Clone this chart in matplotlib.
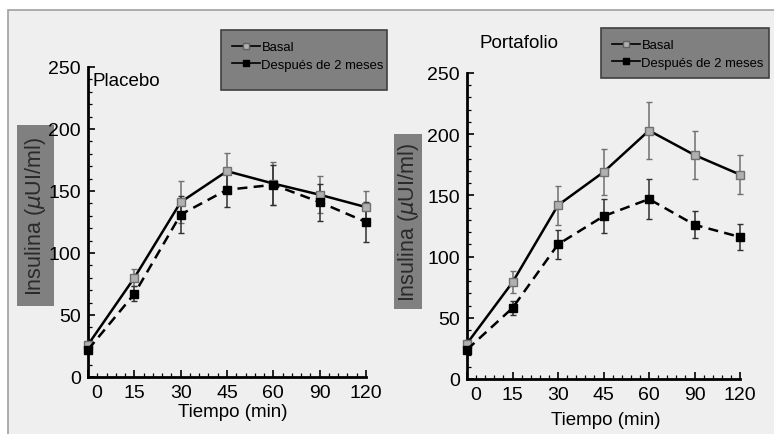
import matplotlib
matplotlib.use("Agg")
import matplotlib.pyplot as plt
import matplotlib.transforms as mtransforms
from matplotlib.patches import Rectangle
from matplotlib.lines import Line2D
import numpy as np

plt.rcParams['font.family'] = ['Liberation Sans', 'DejaVu Sans']

tiempos = ['0', '15', '30', '45', '60', '90', '120']

placebo_basal = [26, 80, 141, 166, 156, 147, 137]
placebo_basal_err = [3, 7, 17, 15, 17, 15, 13]
placebo_post = [22, 67, 131, 151, 155, 141, 125]
placebo_post_err = [3, 6, 15, 14, 16, 15, 16]

porta_basal = [29, 79, 142, 169, 203, 183, 167]
porta_basal_err = [3, 9, 16, 19, 23, 20, 16]
porta_post = [24, 58, 110, 133, 147, 126, 116]
porta_post_err = [3, 6, 12, 14, 16, 11, 11]

W, H = 774, 435
fig = plt.figure(figsize=(W / 100, H / 100), dpi=100)
fig.patch.set_facecolor('white')


def px_rect(x0, x1, y0, y1, **kw):
    fig.patches.append(Rectangle((x0 / W, 1 - y1 / H), (x1 - x0) / W, (y1 - y0) / H,
                                 transform=fig.transFigure, **kw))


# grey panel behind everything
px_rect(8, 790, 11, 440, facecolor='#efefef', edgecolor='#a0a0a0', linewidth=1.2, zorder=-10)


def px_axes(x0, x1, ytop, ybot):
    return fig.add_axes([x0 / W, (H - ybot) / H, (x1 - x0) / W, (ybot - ytop) / H])


def draw_panel(ax, basal, basal_err, post, post_err):
    x = np.arange(len(tiempos))
    ax.set_facecolor('none')
    ax.errorbar(x, basal, yerr=basal_err, color='black', linewidth=1.8,
                marker='s', markersize=6, markerfacecolor='#b0b0b0', markeredgecolor='#707070',
                ecolor='#707070', elinewidth=1.1, capsize=2, clip_on=False, zorder=3)
    ax.errorbar(x, post, yerr=post_err, color='black', linewidth=1.8, linestyle=(0, (4, 2.5)),
                marker='s', markersize=6, markerfacecolor='black', markeredgecolor='black',
                ecolor='#303030', elinewidth=1.1, capsize=2, clip_on=False, zorder=3)
    ax.set_xlim(0, 6)
    ax.set_ylim(0, 250)
    ax.set_xticks(x)
    ax.set_xticklabels(tiempos)
    ax.set_xticks(np.arange(0, 6.01, 0.2), minor=True)
    ax.set_yticks(np.arange(0, 251, 50))
    ax.set_yticks(np.arange(0, 251, 10), minor=True)
    ax.tick_params(axis='both', which='major', direction='in', length=5, width=1.2,
                   labelsize=14, colors='black', pad=5)
    ax.tick_params(axis='both', which='minor', direction='in', length=3, width=0.9)
    for s in ['top', 'right']:
        ax.spines[s].set_visible(False)
    for s in ['left', 'bottom']:
        ax.spines[s].set_linewidth(2)
    # "0" label sits a bit right of the spine
    lbl = ax.get_xticklabels()[0]
    lbl.set_transform(lbl.get_transform() + mtransforms.ScaledTranslation(0.09, 0, fig.dpi_scale_trans))


ax1 = px_axes(88, 366, 68, 378)
draw_panel(ax1, placebo_basal, placebo_basal_err, placebo_post, placebo_post_err)
ax2 = px_axes(467, 740, 74, 380)
draw_panel(ax2, porta_basal, porta_basal_err, porta_post, porta_post_err)

fig.text(92 / W, 1 - 82 / H, 'Placebo', fontsize=13.5, ha='left', va='center')
fig.text(519 / W, 1 - 43 / H, 'Portafolio', fontsize=13.5, ha='center', va='center')
fig.text(233 / W, 1 - 413 / H, 'Tiempo (min)', fontsize=13.5, ha='center', va='center')
fig.text(606 / W, 1 - 421 / H, 'Tiempo (min)', fontsize=13.5, ha='center', va='center')

# y label boxes
ylab = 'Insulina ($\\mu$UI/ml)'
for x0, x1, y0, y1 in [(17, 54, 126, 307), (394, 422, 135, 310)]:
    px_rect(x0, x1, y0, y1, facecolor='#808080', edgecolor='none', zorder=-5)
    fig.text((x0 + x1) / 2 / W, 1 - (y0 + y1) / 2 / H, ylab, fontsize=15.5, rotation=90,
             ha='center', va='center', color='#2a2a2a')

handles = [
    Line2D([], [], color='black', linewidth=1.2, marker='s', markersize=4,
           markerfacecolor='#b0b0b0', markeredgecolor='#606060'),
    Line2D([], [], color='black', linewidth=1.2, marker='s', markersize=4,
           markerfacecolor='black', markeredgecolor='black'),
]
labels = ['Basal', 'Después de 2 meses']

for x0, x1, y0, y1 in [(221, 387, 31, 91), (601, 769, 29, 79)]:
    px_rect(x0, x1, y0, y1, facecolor='#808080', edgecolor='#404040', linewidth=1.2, zorder=-5)
    fig.legend(handles, labels, loc='upper left', bbox_to_anchor=(x0 / W, 1 - y0 / H),
               frameon=False, fontsize=9.4, handlelength=2.1, handletextpad=0.15,
               borderpad=0.85, labelspacing=0.4, borderaxespad=0)

fig.savefig('out.png', dpi=100, facecolor=fig.get_facecolor())
